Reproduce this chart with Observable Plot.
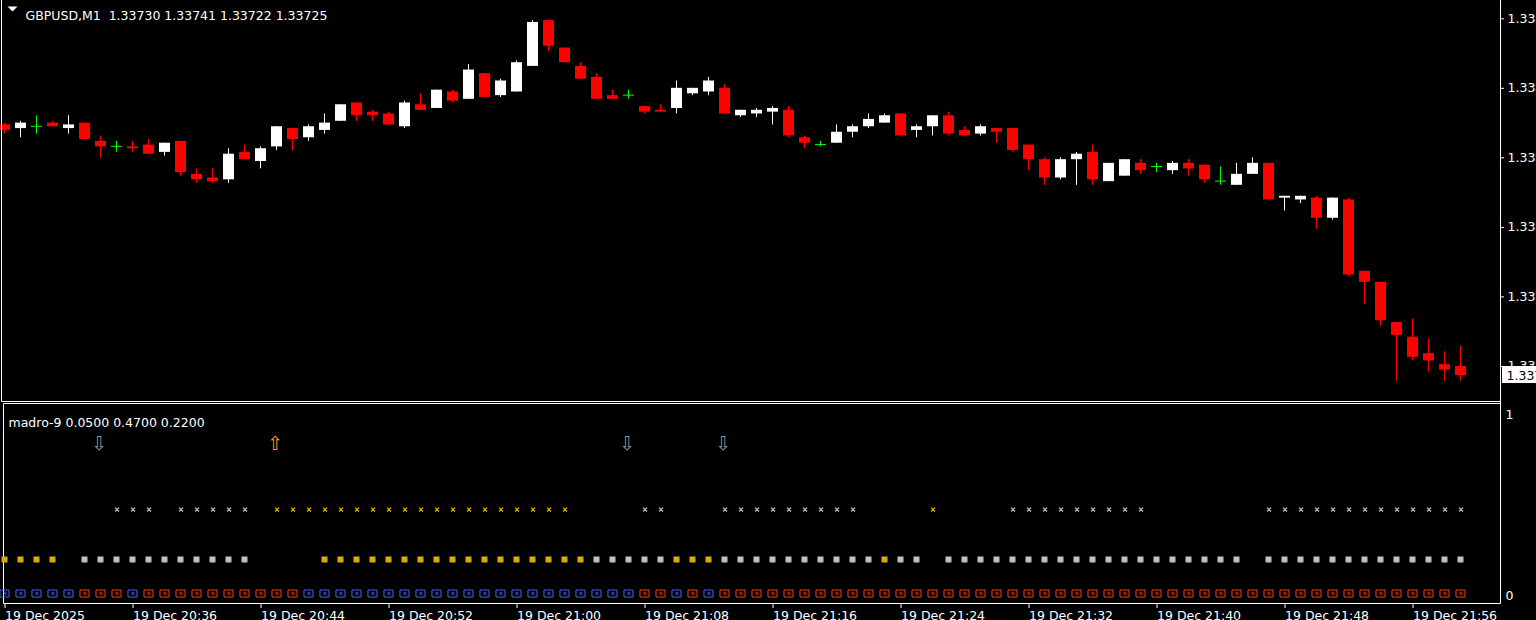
<!DOCTYPE html>
<html><head><meta charset="utf-8">
<script src="https://cdn.jsdelivr.net/npm/d3@7"></script>
<script src="https://cdn.jsdelivr.net/npm/@observablehq/plot@0.6"></script>
<style>
html,body{margin:0;padding:0;background:#000;overflow:hidden;}
#chart{position:relative;width:1536px;height:620px;background:#000;overflow:hidden;}
#chart svg{display:block;}
</style></head><body><div id="chart"></div>
<script>
const symbolName = "GBPUSD,M1";
const indicatorName = "madro-9";
const indicatorValues = [0.05, 0.47, 0.22]; // box row, star row, square row
const arrowLevel = 0.8;

const open = [1.33862,1.33860,1.33861,1.33863,1.33860,1.33863,1.33853,1.33850,1.33850,1.33851,1.33847,1.33853,1.33835,1.33833,1.33832,1.33847,1.33842,1.33850,1.33860,1.33855,1.33859,1.33864,1.33874,1.33869,1.33868,1.33861,1.33873,1.33871,1.33880,1.33876,1.33890,1.33878,1.33880,1.33894,1.33919,1.33904,1.33894,1.33888,1.33878,1.33878,1.33872,1.33870,1.33871,1.33879,1.33880,1.33882,1.33867,1.33868,1.33869,1.33870,1.33855,1.33851,1.33852,1.33858,1.33861,1.33863,1.33868,1.33859,1.33861,1.33867,1.33859,1.33857,1.33860,1.33860,1.33851,1.33843,1.33833,1.33843,1.33847,1.33831,1.33834,1.33841,1.33839,1.33837,1.33841,1.33840,1.33831,1.33829,1.33835,1.33841,1.33822,1.33821,1.33822,1.33811,1.33821,1.33782,1.33776,1.33754,1.33746,1.33737,1.33731,1.33730];
const high = [1.33863,1.33864,1.33867,1.33864,1.33867,1.33863,1.33856,1.33853,1.33853,1.33854,1.33852,1.33853,1.33838,1.33838,1.33849,1.33851,1.33850,1.33861,1.33860,1.33862,1.33868,1.33873,1.33874,1.33870,1.33869,1.33875,1.33879,1.33881,1.33881,1.33895,1.33890,1.33887,1.33897,1.33919,1.33919,1.33904,1.33896,1.33890,1.33881,1.33881,1.33872,1.33873,1.33886,1.33882,1.33888,1.33884,1.33870,1.33871,1.33872,1.33872,1.33856,1.33853,1.33862,1.33862,1.33868,1.33868,1.33868,1.33862,1.33867,1.33869,1.33861,1.33862,1.33860,1.33860,1.33851,1.33844,1.33844,1.33847,1.33851,1.33841,1.33843,1.33843,1.33841,1.33842,1.33843,1.33840,1.33839,1.33841,1.33844,1.33841,1.33823,1.33823,1.33823,1.33822,1.33822,1.33782,1.33776,1.33754,1.33756,1.33745,1.33738,1.33741];
const low = [1.33857,1.33855,1.33857,1.33861,1.33857,1.33854,1.33844,1.33847,1.33847,1.33846,1.33845,1.33834,1.33830,1.33830,1.33830,1.33843,1.33838,1.33848,1.33848,1.33853,1.33857,1.33864,1.33864,1.33864,1.33862,1.33860,1.33870,1.33871,1.33874,1.33876,1.33877,1.33877,1.33880,1.33894,1.33902,1.33896,1.33887,1.33876,1.33876,1.33876,1.33868,1.33869,1.33868,1.33878,1.33878,1.33868,1.33866,1.33866,1.33862,1.33855,1.33849,1.33850,1.33852,1.33855,1.33860,1.33863,1.33856,1.33855,1.33856,1.33856,1.33856,1.33856,1.33852,1.33847,1.33837,1.33829,1.33832,1.33829,1.33829,1.33831,1.33834,1.33835,1.33836,1.33835,1.33834,1.33830,1.33829,1.33829,1.33835,1.33821,1.33815,1.33819,1.33805,1.33810,1.33779,1.33764,1.33752,1.33722,1.33733,1.33727,1.33722,1.33722];
const close = [1.33859,1.33863,1.33861,1.33861,1.33862,1.33854,1.33850,1.33850,1.33849,1.33846,1.33852,1.33836,1.33832,1.33831,1.33846,1.33843,1.33849,1.33861,1.33854,1.33861,1.33863,1.33873,1.33867,1.33867,1.33862,1.33874,1.33870,1.33881,1.33875,1.33892,1.33877,1.33886,1.33896,1.33918,1.33905,1.33896,1.33887,1.33876,1.33876,1.33878,1.33869,1.33869,1.33882,1.33882,1.33886,1.33868,1.33870,1.33870,1.33871,1.33856,1.33852,1.33851,1.33858,1.33861,1.33865,1.33867,1.33856,1.33861,1.33867,1.33857,1.33856,1.33861,1.33858,1.33848,1.33843,1.33833,1.33843,1.33846,1.33832,1.33841,1.33843,1.33837,1.33839,1.33841,1.33838,1.33832,1.33831,1.33835,1.33841,1.33821,1.33823,1.33823,1.33811,1.33822,1.33780,1.33776,1.33755,1.33747,1.33735,1.33733,1.33728,1.33725];

// indicator rows: 1 = up colour, -1 = down colour, 0 = empty
const boxState = [1,1,1,1,1,-1,-1,-1,1,-1, -1,-1,-1,-1,-1,-1,-1,-1,-1,1, 1,1,1,1,1,1,1,1,1,1, 1,1,1,1,1,1,1,1,1,1, -1,-1,1,-1,1,-1,-1,-1,-1,-1, -1,-1,-1,-1,-1,-1,-1,-1,-1,-1, -1,-1,-1,-1,-1,-1,-1,-1,-1,-1, -1,-1,-1,-1,-1,-1,-1,-1,-1,-1, -1,-1,-1,-1,-1,-1,-1,-1,-1,-1, -1,-1];
const squareState = [1,1,1,1,0,-1,-1,-1,-1,-1, -1,-1,-1,-1,-1,-1,0,0,0,0, 1,1,1,1,1,1,1,1,1,1, 1,1,1,1,1,1,1,-1,-1,-1, -1,-1,1,1,1,-1,-1,-1,-1,-1, -1,-1,-1,-1,-1,1,-1,-1,0,-1, -1,-1,-1,-1,-1,-1,-1,-1,-1,-1, -1,-1,-1,-1,-1,-1,-1,-1,0,-1, -1,-1,-1,-1,-1,-1,-1,-1,-1,-1, -1,-1];
const starState = [0,0,0,0,0,0,0,-1,-1,-1, 0,-1,-1,-1,-1,-1,0,1,1,1, 1,1,1,1,1,1,1,1,1,1, 1,1,1,1,1,1,0,0,0,0, -1,-1,0,0,0,-1,-1,-1,-1,-1, -1,-1,-1,-1,0,0,0,0,1,0, 0,0,0,-1,-1,-1,-1,-1,-1,-1, -1,-1,0,0,0,0,0,0,0,-1, -1,-1,-1,-1,-1,-1,-1,-1,-1,-1, -1,-1];
const arrowBars = [6, 17, 39, 45];
const arrowDir = [-1, 1, -1, -1];

const yTicks = [1.33730, 1.33768, 1.33806, 1.33844, 1.33882, 1.33920];
const timeTickBars = [0, 8, 16, 24, 32, 40, 48, 56, 64, 72, 80, 88];
const timeTickLabels = ["19 Dec 2025","19 Dec 20:36","19 Dec 20:44","19 Dec 20:52","19 Dec 21:00","19 Dec 21:08","19 Dec 21:16","19 Dec 21:24","19 Dec 21:32","19 Dec 21:40","19 Dec 21:48","19 Dec 21:56"];

const BULL = "#ffffff", BEAR = "#ff0000", DOJI = "#00ff00";
const BOX_UP = "#4169e1", BOX_DN = "#ee4411";
const GOLD = "#daa520", SILVER = "#c0c0c0", STAR_GRAY = "#aab4c4";
const ARROW_DN = "#8a929c", ARROW_UP = "#f2a30f";
const FS = 12.5;

const n = open.length;
const candles = d3.range(n).map(i => ({i, o: open[i], h: high[i], l: low[i], c: close[i]}));
const candleColor = d => d.c > d.o ? BULL : d.c < d.o ? BEAR : DOJI;

const boxes = d3.range(n).map(i => ({i, v: indicatorValues[0], color: boxState[i] > 0 ? BOX_UP : BOX_DN}));
const squares = d3.range(n).filter(i => squareState[i] !== 0).map(i => ({i, v: indicatorValues[2], color: squareState[i] > 0 ? GOLD : SILVER}));
const stars = d3.range(n).filter(i => starState[i] !== 0).map(i => ({i, v: indicatorValues[1], color: starState[i] > 0 ? GOLD : STAR_GRAY}));
const arrows = arrowBars.map((b, k) => ({i: b, v: arrowLevel, glyph: arrowDir[k] > 0 ? "\u21E7" : "\u21E9", color: arrowDir[k] > 0 ? ARROW_UP : ARROW_DN}));

// glyph shapes (pixel-aligned)
const boxSymbol = {draw(ctx) { ctx.rect(-5, -3.5, 9, 7); ctx.moveTo(-1.5, -1.5); ctx.lineTo(1.5, 1.5); ctx.moveTo(1.5, -1.5); ctx.lineTo(-1.5, 1.5); }};
const squareSymbol = {draw(ctx) { ctx.rect(-3.5, -3, 6, 6); }};
const starSymbol = {draw(ctx) { ctx.moveTo(-2, -2); ctx.lineTo(2, 2); ctx.moveTo(2, -2); ctx.lineTo(-2, 2); ctx.moveTo(0, -0.6); ctx.lineTo(0, 0.6); }};

const xBand = {type: "band", domain: d3.range(n), range: [-1, 1466], paddingInner: 0.3125, paddingOuter: 0, align: 0.5, round: false, axis: null};
const baseStyle = {background: "#000", color: "#fff", fontFamily: "'DejaVu Sans', sans-serif", fontSize: FS + "px"};

function lines(spec) {
  return (index, scales, values, dim) => {
    const g = d3.create("svg:g").attr("stroke", "#fff").attr("stroke-width", 1);
    for (const s of spec(dim)) g.append("line").attr("x1", s[0]).attr("y1", s[1]).attr("x2", s[2]).attr("y2", s[3]);
    return g.node();
  };
}

const last = n - 1;
const titleMain = `${symbolName}\u00a0\u00a0${open[last].toFixed(5)} ${high[last].toFixed(5)} ${low[last].toFixed(5)} ${close[last].toFixed(5)}`;
const titleInd = `${indicatorName} ${indicatorValues.map(v => v.toFixed(4)).join(" ")}`;

const main = Plot.plot({
  width: 1536, height: 402, marginTop: 0, marginRight: 36, marginBottom: 2, marginLeft: 0,
  style: baseStyle,
  x: xBand,
  y: {domain: [1.337114, 1.3393], range: [400, 0], axis: null},
  color: {type: "identity"},
  marks: [
    Plot.barY(candles, {x: "i", y1: "l", y2: "h", fill: candleColor, insetLeft: 5, insetRight: 5}),
    Plot.barY(candles.filter(d => d.o !== d.c), {x: "i", y1: "o", y2: "c", fill: candleColor}),
    Plot.barY(candles.filter(d => d.o === d.c), {x: "i", y1: "o", y2: "c", fill: DOJI, insetTop: -0.5, insetBottom: -0.5}),
    lines(dim => {
      const xr = dim.width - dim.marginRight + 0.5;
      return [[1.5, 0, 1.5, 401.5], [xr, 0, xr, 402], [1.5, 401.5, xr, 401.5]];
    }),
    Plot.axisY(yTicks, {anchor: "right", tickSize: 3, tickPadding: 4, tickFormat: d => d.toFixed(5), fontSize: FS, textAnchor: "start", label: null}),
    (index, scales, values, dim) => {
      const yc = Math.round(scales.y(close[last]));
      const x0 = dim.width - dim.marginRight + 2;
      const g = d3.create("svg:g");
      g.append("rect").attr("x", x0).attr("y", yc - 9).attr("width", 40).attr("height", 17).attr("fill", "#fff");
      g.append("text").attr("x", x0 + 4.5).attr("y", yc + 4.8).attr("fill", "#000").attr("font-size", FS)
        .attr("text-anchor", "start").text(close[last].toFixed(5));
      g.append("path").attr("d", "M7.5,6.5 L17.5,6.5 L12.5,11.5 Z").attr("fill", "#fff");
      return g.node();
    },
    Plot.text([titleMain], {frameAnchor: "top-left", dx: 25, dy: 11, textAnchor: "start", fill: "#fff", fontSize: FS})
  ]
});

const ind = Plot.plot({
  width: 1536, height: 218, marginTop: 1, marginRight: 36, marginBottom: 17, marginLeft: 0,
  style: baseStyle,
  x: xBand,
  y: {domain: [0, 1], range: [201, 1], axis: null},
  color: {type: "identity"},
  marks: [
    lines(dim => {
      const xr = dim.width - dim.marginRight + 0.5;
      return [[3.5, 1.5, xr, 1.5], [3.5, 201.5, xr, 201.5], [3.5, 1.5, 3.5, 201.5], [xr, 0, xr, 201.5]];
    }),
    Plot.dot(boxes, {x: "i", y: "v", symbol: boxSymbol, fill: "none", stroke: "color", strokeWidth: 1}),
    Plot.dot(squares, {x: "i", y: "v", symbol: squareSymbol, fill: "color", stroke: null}),
    Plot.dot(stars, {x: "i", y: "v", symbol: starSymbol, stroke: "color", strokeWidth: 1.1}),
    Plot.text(arrows, {x: "i", y: "v", text: "glyph", fill: "color", fontSize: 19, dx: -2}),
    Plot.axisX(timeTickBars, {anchor: "bottom", tickSize: 5, tickPadding: 3, textAnchor: "start", fontSize: FS, label: null,
      tickFormat: d => timeTickLabels[timeTickBars.indexOf(d)]}),
    Plot.axisY([1], {anchor: "right", tickSize: 0, tickPadding: 5, dy: 11, textAnchor: "start", fontSize: FS, label: null, tickFormat: d => String(d)}),
    Plot.axisY([0], {anchor: "right", tickSize: 0, tickPadding: 5, dy: -8, textAnchor: "start", fontSize: FS, label: null, tickFormat: d => String(d)}),
    Plot.text([titleInd], {frameAnchor: "top-left", dx: 8, dy: 15, textAnchor: "start", fill: "#fff", fontSize: FS})
  ]
});

const chart = document.getElementById("chart");
chart.append(main, ind);
</script>
</body></html>
